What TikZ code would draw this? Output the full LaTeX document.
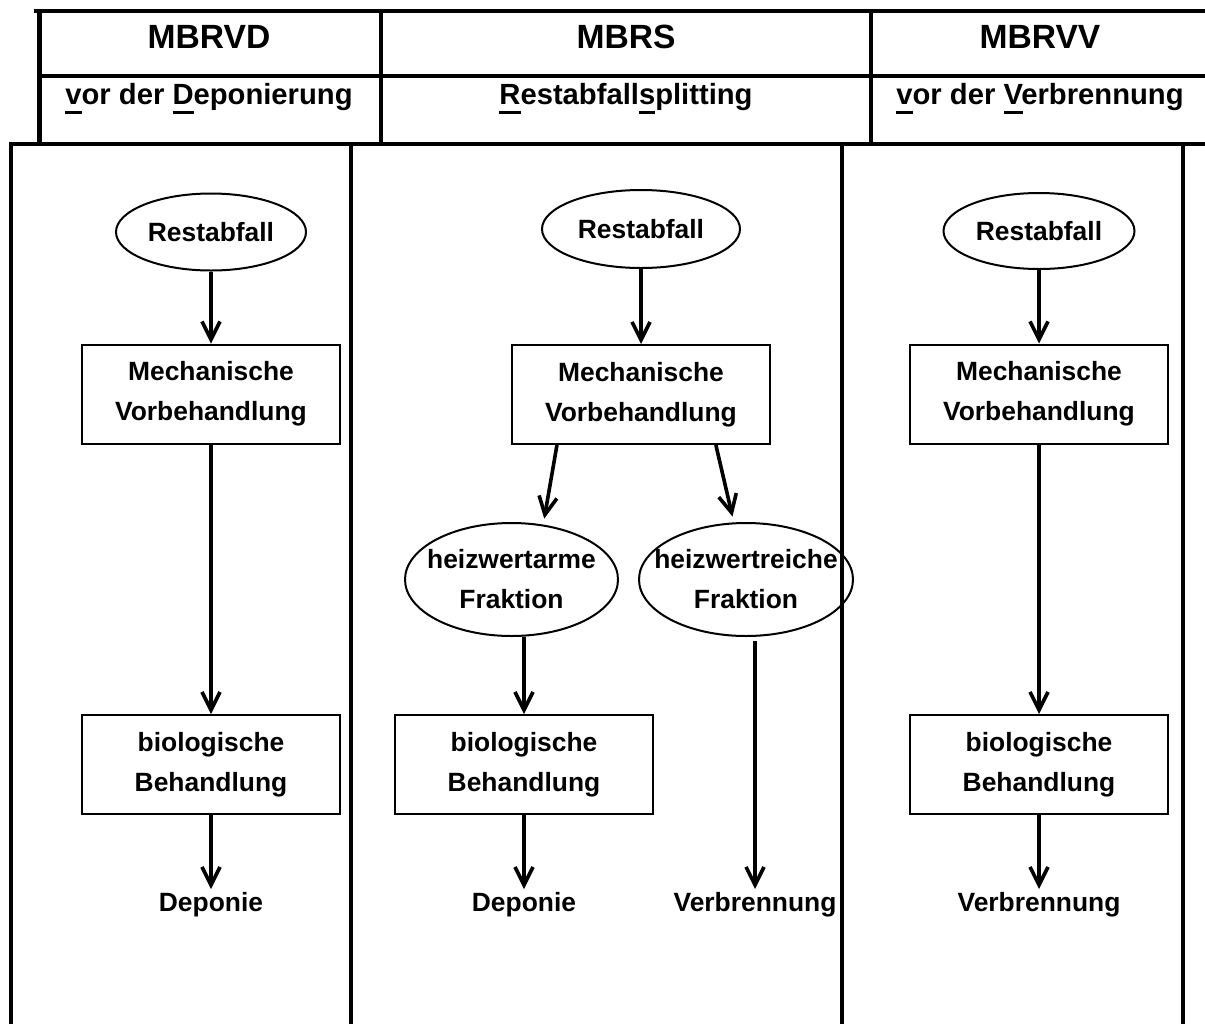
\documentclass[tikz,border=0pt]{standalone}
\usepackage{fontspec}
\setmainfont{Liberation Sans}
\usetikzlibrary{arrows.meta,positioning,shapes.geometric}

% thick underline under the key letters of the column subtitles
\newcommand{\keyletter}[1]{\setbox0\hbox{#1}\rlap{\rule[-5pt]{\wd0}{1.5pt}}#1}

\begin{document}
\begin{tikzpicture}[x=0.5pt,y=-0.5pt,>={Straight Barb[length=9pt,width=9pt]},
    frame/.style={line width=2.4pt},
    flow/.style={->,line width=1.8pt},
    box/.style={rectangle,draw,line width=1pt,minimum width=129pt,minimum height=49.5pt,inner sep=0pt,font=\fontsize{13.2}{20}\selectfont\bfseries,align=center},
    blob/.style={ellipse,draw,line width=1pt,inner sep=0pt,font=\fontsize{13.2}{20}\selectfont\bfseries,align=center},
    sink/.style={anchor=north,inner sep=1.5pt,font=\fontsize{13.2}{20}\selectfont\bfseries},
    title/.style={anchor=base,font=\fontsize{16.8}{20}\selectfont\bfseries},
    subtitle/.style={anchor=base,font=\fontsize{14.6}{18}\selectfont\bfseries},
  ]
  \useasboundingbox (0,0) rectangle (1205,1024);

  % header table
  \draw[frame] (34,11) -- (1205,11);
  \draw[frame] (39.5,11) -- (39.5,144);
  \draw[frame] (39.5,76) -- (1205,76);
  \draw[frame] (381,11) -- (381,144);
  \draw[frame] (871,11) -- (871,144);
  \draw[frame] (11,1024) -- (11,144) -- (1205,144);
  \foreach \x in {351,842,1183}
    \draw[frame] (\x,144) -- (\x,1024);

  \node[title] (hdvd) at (209,48) {MBRVD};
  \node[title] (hdrs) at (626,48) {MBRS};
  \node[title] (hdvv) at (1040,48) {MBRVV};
  \node[subtitle] (subvd) at (209,104) {\keyletter{v}or der \keyletter{D}eponierung};
  \node[subtitle] (subrs) at (626,104) {\keyletter{R}estabfall\keyletter{s}plitting};
  \node[subtitle] (subvv) at (1040,104) {\keyletter{v}or der \keyletter{V}erbrennung};

  % MBRVD
  \node[blob,minimum width=95pt,minimum height=38.5pt] (rest1) at (211,232) {Restabfall};
  \node[box] (mech1) at (211,394) {Mechanische\\Vorbehandlung};
  \node[box] (bio1) at (211,764.5) {biologische\\Behandlung};
  \node[sink] (dep1) at (211,889) {Deponie};
  \draw[flow] (rest1) -- (mech1);
  \draw[flow] (mech1) -- (bio1);
  \draw[flow] (bio1) -- (dep1);

  % MBRS
  \node[blob,minimum width=99pt,minimum height=39pt] (rest2) at (641,229) {Restabfall};
  \node[box] (mech2) at (641,394.5) {Mechanische\\Vorbehandlung};
  \node[blob,inner xsep=-25pt,minimum width=106.5pt,minimum height=56.5pt] (frac1) at (511.5,579.5) {heizwertarme\\Fraktion};
  \node[blob,inner xsep=-25pt,minimum width=107pt,minimum height=56.5pt] (frac2) at (746,579.5) {heizwertreiche\\Fraktion};
  \node[box] (bio2) at (524,764.5) {biologische\\Behandlung};
  \node[sink] (dep2) at (524,889) {Deponie};
  \node[sink] (verb2) at (755,889) {Verbrennung};
  \draw[flow] (rest2) -- (mech2);
  \draw[flow,shorten >=3pt] (mech2.211) -- (frac1.60);
  \draw[flow,shorten >=3pt] (mech2.326) -- (frac2.102);
  \draw[flow] (frac1.south -| bio2.north) -- (bio2);
  \draw[flow] (bio2) -- (dep2);
  \draw[flow,shorten <=2pt] (frac2.south -| verb2.north) -- (verb2);

  % MBRVV
  \node[blob,minimum width=95.5pt,minimum height=38pt] (rest3) at (1039,231) {Restabfall};
  \node[box] (mech3) at (1039,394) {Mechanische\\Vorbehandlung};
  \node[box] (bio3) at (1039,764.5) {biologische\\Behandlung};
  \node[sink] (verb3) at (1039,889) {Verbrennung};
  \draw[flow] (rest3) -- (mech3);
  \draw[flow] (mech3) -- (bio3);
  \draw[flow] (bio3) -- (verb3);
\end{tikzpicture}
\end{document}
